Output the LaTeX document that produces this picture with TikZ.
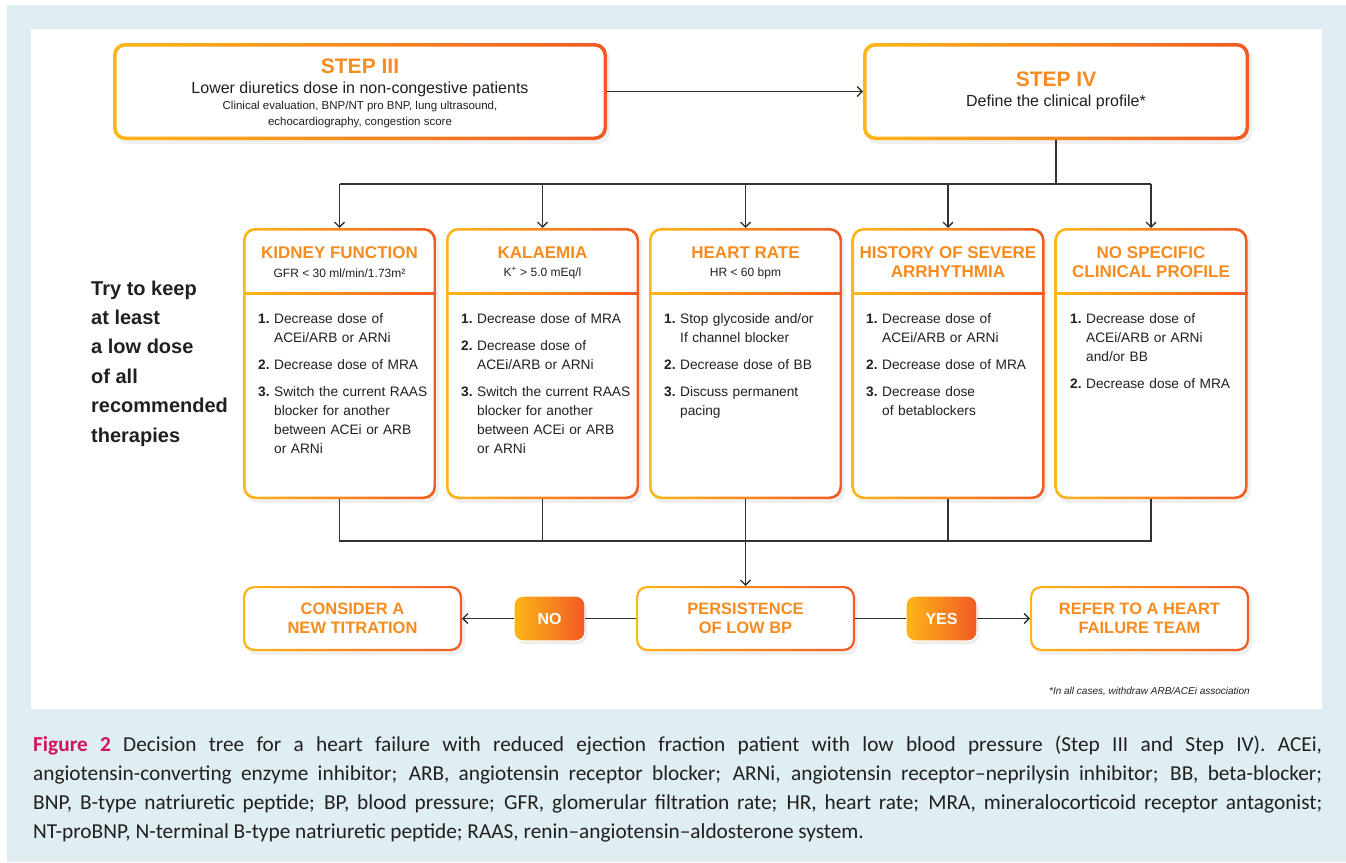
\documentclass[tikz,border=0pt]{standalone}
\usepackage{fontspec}
\setmainfont{Liberation Sans}
\newfontfamily\capfont{Carlito}
\usetikzlibrary{arrows.meta,shadows,calc}

\definecolor{bgblue}{RGB}{222,238,243}
\definecolor{orgL}{RGB}{253,182,24}
\definecolor{orgR}{RGB}{241,90,36}
\definecolor{orgtxt}{RGB}{246,139,31}
\definecolor{ink}{RGB}{35,31,32}
\definecolor{wireclr}{RGB}{50,50,50}
\definecolor{figred}{RGB}{212,20,90}

% gradient frame round a named node: name, width, outer radius, inner radius
\newcommand\gradring[4]{%
  \path[left color=orgL, right color=orgR, even odd rule, rounded corners=#3pt]
    (#1.north west) rectangle (#1.south east)
    [rounded corners=#4pt] ($(#1.north west)+(#2,#2)$) rectangle ($(#1.south east)+(-#2,-#2)$);}
% orange rule under a profile heading
\newcommand\headrule[1]{%
  \path[left color=orgL, right color=orgR] ($(#1.north west)+(0,64)$) rectangle ($(#1.north east)+(0,66)$);}
% numbered point in a profile box
\newcommand\pnt[2]{\hangindent=16pt\hangafter=1\noindent\makebox[16pt][l]{\bfseries #1}#2\par}

\tikzset{
  stepbox/.style={fill=white, rounded corners=12pt, inner sep=0pt, outer sep=0pt, minimum height=97pt,
    drop shadow={opacity=0.12, shadow xshift=3pt, shadow yshift=-4pt}},
  profbox/.style={fill=white, rounded corners=12pt, inner sep=0pt, outer sep=0pt,
    minimum width=193pt, minimum height=271pt,
    drop shadow={opacity=0.12, shadow xshift=3pt, shadow yshift=-4pt}},
  endbox/.style={fill=white, rounded corners=11pt, inner sep=0pt, outer sep=0pt,
    minimum width=219pt, minimum height=65pt, align=center, text=orgtxt,
    font=\bfseries\fontsize{16.5}{19}\selectfont,
    drop shadow={opacity=0.12, shadow xshift=3pt, shadow yshift=-4pt}},
  badge/.style={left color=orgL, right color=orgR, draw=white, line width=1.2pt, rounded corners=9pt,
    minimum width=71pt, minimum height=45pt, inner sep=0pt, outer sep=0pt, text=white,
    font=\bfseries\fontsize{16}{16}\selectfont,
    drop shadow={opacity=0.15, shadow xshift=2pt, shadow yshift=-3pt}},
  steptitle/.style={text=orgtxt, font=\bfseries\fontsize{21}{21}\selectfont, inner sep=0pt},
  steptext/.style={text=ink, font=\fontsize{16}{16}\selectfont, inner sep=0pt},
  profhead/.style={text=orgtxt, font=\bfseries\fontsize{17}{19}\selectfont, align=center, inner sep=0pt},
  profsub/.style={text=ink, font=\fontsize{12}{14}\selectfont, inner sep=0pt},
  points/.style={text=ink, font=\fontsize{13.7}{19}\selectfont, text width=180pt,
    inner sep=0pt, anchor=north west},
  wire/.style={draw=wireclr, line width=1.3pt},
  conn/.style={wire, -{Straight Barb[length=5pt, width=10pt, line width=1.3pt]}},
}

\begin{document}
\begin{tikzpicture}[x=1pt,y=-1pt]
\useasboundingbox (0,0) rectangle (1346,862);

%Shape: Rectangle [page and panel]
\fill[white] (0,0) rectangle (1346,862);
\fill[bgblue] (7,5) rectangle (1346,862);
\fill[white] (31,29) rectangle (1322,709);

%Shape: Step boxes
\node[stepbox, minimum width=494pt] (s3) at (360,91.5) {};
\node[stepbox, minimum width=386pt] (s4) at (1056,91.5) {};
\gradring{s3}{3.5}{12}{9}
\gradring{s4}{3.5}{12}{9}

% Text Node
\node[steptitle] (s3t) at (360,66) {STEP III};
% Text Node
\node[steptext] (s3a) at (360,89) {Lower diuretics dose in non-congestive patients};
% Text Node
\node[text=ink, font=\fontsize{11.5}{16}\selectfont, align=center, inner sep=0pt] (s3b) at (360,114.5)
  {Clinical evaluation, BNP/NT pro BNP, lung ultrasound,\\echocardiography, congestion score};
% Text Node
\node[steptitle] (s4t) at (1056,79) {STEP IV};
% Text Node
\node[steptext] (s4a) at (1056,102) {Define the clinical profile*};

%Shape: Profile boxes
\node[profbox] (kid) at (339.5,363.5) {};
\node[profbox] (kal) at (542.5,363.5) {};
\node[profbox] (hr) at (745.5,363.5) {};
\node[profbox] (hist) at (948,363.5) {};
\node[profbox] (nsp) at (1151,363.5) {};
\gradring{kid}{2.5}{12}{10}  \headrule{kid}
\gradring{kal}{2.5}{12}{10}  \headrule{kal}
\gradring{hr}{2.5}{12}{10}   \headrule{hr}
\gradring{hist}{2.5}{12}{10} \headrule{hist}
\gradring{nsp}{2.5}{12}{10}  \headrule{nsp}

% Text Node
\node[profhead] (kidh) at (339.5,253) {KIDNEY FUNCTION};
\node[profsub] (kids) at (339.5,273) {GFR < 30 ml/min/1.73m²};
\node[points] (kidp) at (258,313) {\setlength{\parskip}{8pt}%
  \pnt{1.}{Decrease dose of\newline ACEi/ARB or ARNi}%
  \pnt{2.}{Decrease dose of MRA}%
  \pnt{3.}{Switch the current RAAS\newline blocker for another\newline between ACEi or ARB\newline or ARNi}};
% Text Node
\node[profhead] (kalh) at (542.5,253) {KALAEMIA};
\node[profsub] (kals) at (542.5,273) {K\textsuperscript{+} > 5.0 mEq/l};
\node[points] (kalp) at (461,313) {\setlength{\parskip}{8pt}%
  \pnt{1.}{Decrease dose of MRA}%
  \pnt{2.}{Decrease dose of\newline ACEi/ARB or ARNi}%
  \pnt{3.}{Switch the current RAAS\newline blocker for another\newline between ACEi or ARB\newline or ARNi}};
% Text Node
\node[profhead] (hrh) at (745.5,253) {HEART RATE};
\node[profsub] (hrs) at (745.5,273) {HR < 60 bpm};
\node[points] (hrp) at (664,313) {\setlength{\parskip}{8pt}%
  \pnt{1.}{Stop glycoside and/or\newline If channel blocker}%
  \pnt{2.}{Decrease dose of BB}%
  \pnt{3.}{Discuss permanent\newline pacing}};
% Text Node
\node[profhead] (histh) at (948,262.5) {HISTORY OF SEVERE\\ARRHYTHMIA};
\node[points] (histp) at (866,313) {\setlength{\parskip}{8pt}%
  \pnt{1.}{Decrease dose of\newline ACEi/ARB or ARNi}%
  \pnt{2.}{Decrease dose of MRA}%
  \pnt{3.}{Decrease dose\newline of betablockers}};
% Text Node
\node[profhead] (nsph) at (1151,262.5) {NO SPECIFIC\\CLINICAL PROFILE};
\node[points] (nspp) at (1070,313) {\setlength{\parskip}{8pt}%
  \pnt{1.}{Decrease dose of\newline ACEi/ARB or ARNi\newline and/or BB}%
  \pnt{2.}{Decrease dose of MRA}};

% Text Node
\node[text=ink, font=\bfseries\fontsize{20}{29.4}\selectfont, align=left, inner sep=0pt, anchor=north west]
  (keep) at (91,280.5) {Try to keep\\at least\\a low dose\\of all\\recommended\\therapies};

%Shape: Outcome boxes
\node[endbox] (cons) at (352.5,618.5) {CONSIDER A\\NEW TITRATION};
\node[endbox] (pers) at (745.5,618.5) {PERSISTENCE\\OF LOW BP};
\node[endbox] (ref) at (1139.5,618.5) {REFER TO A HEART\\FAILURE TEAM};
\gradring{cons}{2.2}{11}{9}
\gradring{pers}{2.2}{11}{9}
\gradring{ref}{2.2}{11}{9}
\node[badge] (no) at (549.5,618.5) {NO};
\node[badge] (yes) at (941.5,618.5) {YES};

%Straight Lines
\coordinate (split) at (1056,184);
\coordinate (merge) at (745.5,541);
\draw[conn] (s3) -- (s4);
\draw[wire] (s4) -- (split);
\draw[wire] (split -| kid) -- (split -| nsp);
\draw[conn] (split -| kid) -- (kid);
\draw[conn] (split -| kal) -- (kal);
\draw[conn] (split -| hr) -- (hr);
\draw[conn] (split -| hist) -- (hist);
\draw[conn] (split -| nsp) -- (nsp);
\draw[wire] (kid.south) |- (merge);
\draw[wire] (kal.south) |- (merge);
\draw[wire] (hr.south) -- (merge);
\draw[wire] (hist.south) |- (merge);
\draw[wire] (nsp.south) |- (merge);
\draw[conn] (merge) -- (pers);
\draw[wire] (pers) -- (no);
\draw[conn] (no) -- (cons);
\draw[wire] (pers) -- (yes);
\draw[conn] (yes) -- (ref);

% Text Node
\node[text=ink, font=\itshape\fontsize{10}{12}\selectfont, inner sep=0pt, anchor=east] (note) at (1250,692)
  {*In all cases, withdraw ARB/ACEi association};

% Text Node
\node[text=ink, font=\capfont\fontsize{21.3}{29}\selectfont, text width=1289pt, align=justify,
  inner sep=0pt, anchor=north west] (cap) at (33,735.5)
  {{\color{figred}\bfseries Figure 2} Decision tree for a heart failure with reduced ejection fraction patient with low blood pressure (Step III and Step IV). ACEi,\linebreak
  angiotensin-converting enzyme inhibitor; ARB, angiotensin receptor blocker; ARNi, angiotensin receptor\textendash neprilysin inhibitor; BB, beta-blocker;\linebreak
  BNP, B-type natriuretic peptide; BP, blood pressure; GFR, glomerular filtration rate; HR, heart rate; MRA, mineralocorticoid receptor antagonist;\linebreak
  NT-proBNP, N-terminal B-type natriuretic peptide; RAAS, renin\textendash angiotensin\textendash aldosterone system.};

\end{tikzpicture}
\end{document}
